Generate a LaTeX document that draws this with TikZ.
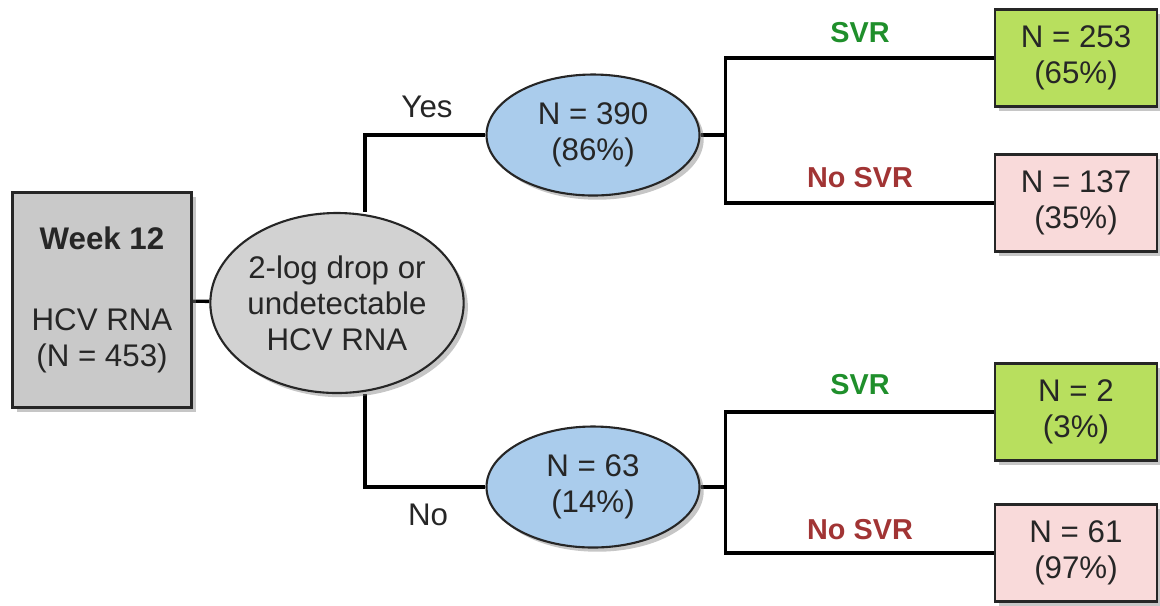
\documentclass[tikz,border=0pt]{standalone}
\usepackage{fontspec}
\setmainfont{Liberation Sans}
\usetikzlibrary{shapes.geometric, shadows, backgrounds}

\definecolor{boxgray}{HTML}{C9C9C9}
\definecolor{ovalgray}{HTML}{D2D2D2}
\definecolor{ovalblue}{HTML}{AACCEC}
\definecolor{boxgreen}{HTML}{B8DF5E}
\definecolor{boxpink}{HTML}{F9DADA}
\definecolor{svrgreen}{HTML}{1F8F2B}
\definecolor{svrred}{HTML}{A13434}
\definecolor{linegray}{HTML}{262626}

\begin{document}
\begin{tikzpicture}[
        every node/.style={font=\fontsize{8.9}{10.2}\selectfont, text=linegray, align=center},
        shade/.style={drop shadow={shadow xshift=1.2pt, shadow yshift=-1.2pt, opacity=0.45}},
        startbox/.style={draw=linegray, semithick, fill=boxgray, shade, minimum width=1.79cm, minimum height=2.15cm},
        critoval/.style={ellipse, draw=linegray, semithick, fill=ovalgray, shade, minimum width=2.5cm, minimum height=1.8cm, inner sep=0pt},
        groupoval/.style={ellipse, draw=linegray, semithick, fill=ovalblue, shade, minimum width=2.13cm, minimum height=1.21cm, inner sep=0pt},
        svrbox/.style={draw=linegray, semithick, fill=boxgreen, shade, minimum width=1.62cm, minimum height=0.97cm},
        nosvrbox/.style={draw=linegray, semithick, fill=boxpink, shade, minimum width=1.62cm, minimum height=0.97cm},
        branch/.style={draw=black, line width=0.95pt},
        svrlabel/.style={font=\fontsize{8.2}{9.6}\selectfont\bfseries, text=svrgreen},
        nosvrlabel/.style={font=\fontsize{8.2}{9.6}\selectfont\bfseries, text=svrred}
    ]
        \useasboundingbox (0, 0) rectangle (11.6, -6.05);

        % start and criterion
        \node[startbox] (week) at (1.02, -3.00) {\textbf{Week 12}\\[0.45cm]HCV RNA\\(N = 453)};
        \node[critoval] (crit) at (3.37, -3.03) {2-log drop or\\undetectable\\HCV RNA};

        % the two groups
        \node[groupoval] (yes) at (5.93, -1.35) {N = 390\\(86\%)};
        \node[groupoval] (no) at (5.93, -4.87) {N = 63\\(14\%)};

        % outcomes
        \node[svrbox] (svra) at (10.76, -0.58) {N = 253\\(65\%)};
        \node[nosvrbox] (nosvra) at (10.76, -2.03) {N = 137\\(35\%)};
        \node[svrbox] (svrb) at (10.76, -4.12) {N = 2\\(3\%)};
        \node[nosvrbox] (nosvrb) at (10.76, -5.53) {N = 61\\(97\%)};

        % connectors
        \begin{scope}[on background layer]
        \draw[branch] (week) -- (crit);
        \draw[branch] ([xshift=2.8mm]crit.north) |- (yes);
        \draw[branch] ([xshift=2.8mm]crit.south) |- (no);
        \draw[branch] (yes.east) -- ++(0.25, 0) coordinate (forka);
        \draw[branch] (forka) |- (svra);
        \draw[branch] (forka) |- (nosvra);
        \draw[branch] (no.east) -- ++(0.25, 0) coordinate (forkb);
        \draw[branch] (forkb) |- (svrb);
        \draw[branch] (forkb) |- (nosvrb);
        \end{scope}

        % labels
        \node (yeslbl) at (4.27, -1.07) {Yes};
        \node (nolbl) at (4.28, -5.15) {No};
        \node[svrlabel] (svralbl) at (8.6, -0.33) {SVR};
        \node[nosvrlabel] (nosvralbl) at (8.6, -1.78) {No SVR};
        \node[svrlabel] (svrblbl) at (8.6, -3.85) {SVR};
        \node[nosvrlabel] (nosvrblbl) at (8.6, -5.30) {No SVR};
\end{tikzpicture}
\end{document}
